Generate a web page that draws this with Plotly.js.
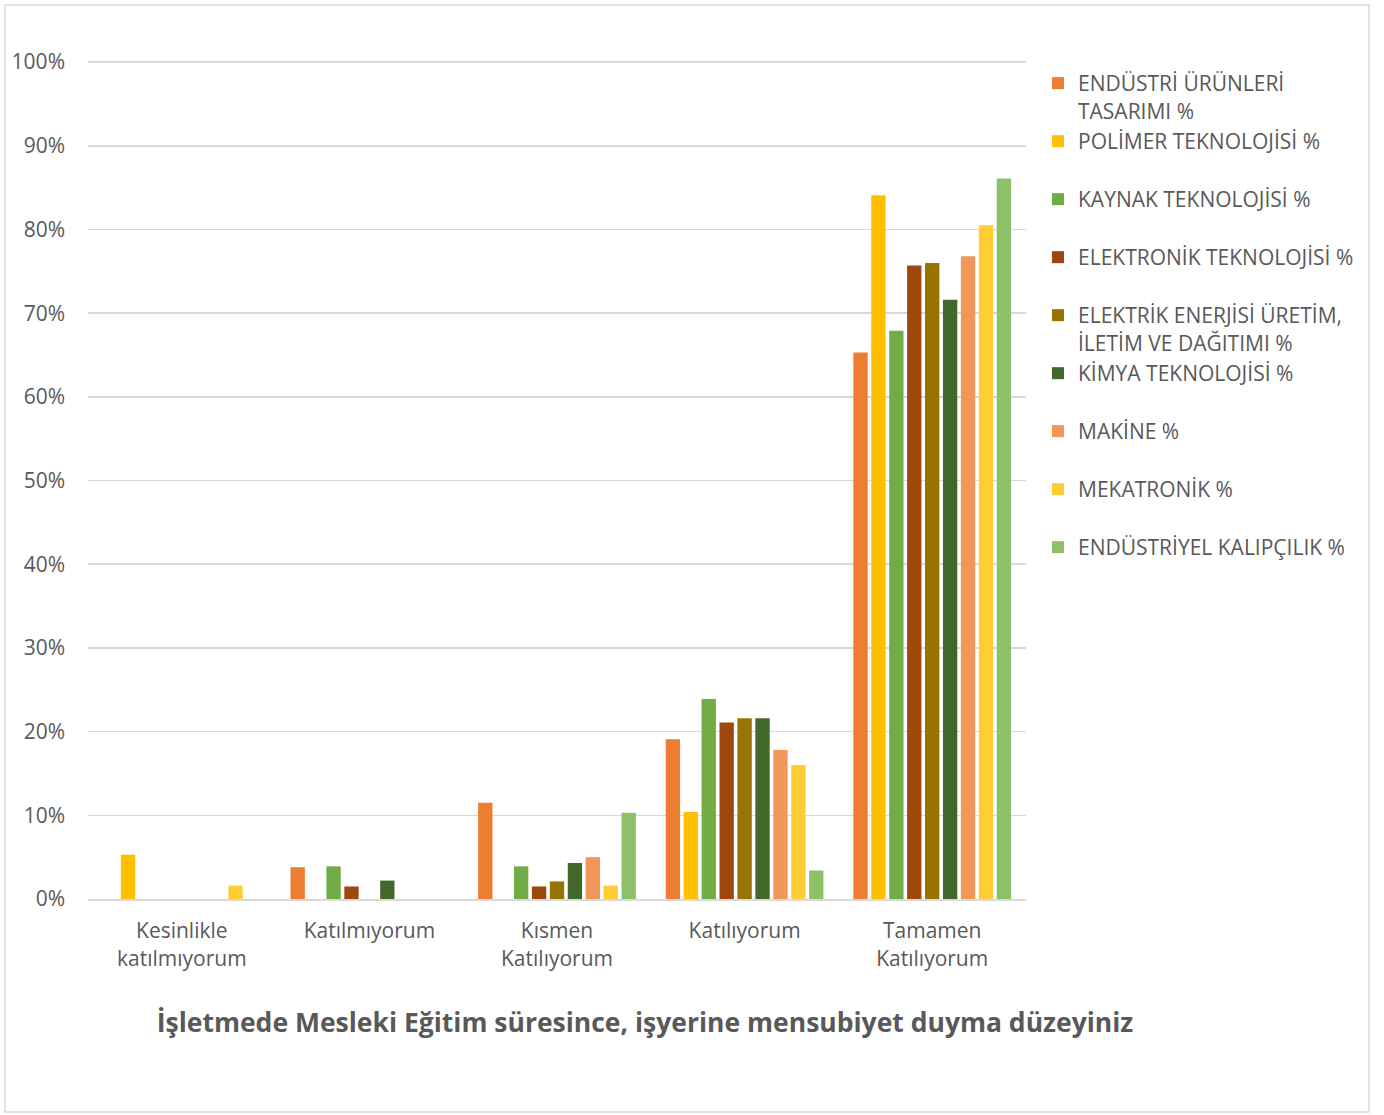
<!DOCTYPE html>
<html>
<head>
<meta charset="utf-8">
<script src="https://cdn.plot.ly/plotly-3.0.1.min.js"></script>
<style>html,body{margin:0;padding:0;background:#fff;}#chart{width:1384px;height:1115px;}</style>
</head>
<body>
<div id="chart"></div>
<script>
const categories = ["Kesinlikle<br>katılmıyorum", "Katılmıyorum", "Kısmen<br>Katılıyorum", "Katılıyorum", "Tamamen<br>Katılıyorum"];
const seriesNames = [
  "ENDÜSTRİ ÜRÜNLERİ<br>TASARIMI %",
  "POLİMER TEKNOLOJİSİ %",
  "KAYNAK TEKNOLOJİSİ %",
  "ELEKTRONİK TEKNOLOJİSİ %",
  "ELEKTRİK ENERJİSİ ÜRETİM,<br>İLETİM VE DAĞITIMI %",
  "KİMYA TEKNOLOJİSİ %",
  "MAKİNE %",
  "MEKATRONİK %",
  "ENDÜSTRİYEL KALIPÇILIK %"
];
const endustriUrunleri = [0, 3.8, 11.5, 19.1, 65.3];
const polimer          = [5.3, 0, 0, 10.4, 84.1];
const kaynak           = [0, 3.9, 3.9, 23.9, 67.9];
const elektronik       = [0, 1.5, 1.5, 21.1, 75.7];
const elektrik         = [0, 0, 2.1, 21.6, 76.0];
const kimya            = [0, 2.2, 4.3, 21.6, 71.6];
const makine           = [0, 0, 5.0, 17.8, 76.8];
const mekatronik       = [1.6, 0, 1.6, 16.0, 80.5];
const kalipcilik       = [0, 0, 10.3, 3.4, 86.1];
const tickValues = [0, 10, 20, 30, 40, 50, 60, 70, 80, 90, 100];
const tickLabels = ["0%", "10%", "20%", "30%", "40%", "50%", "60%", "70%", "80%", "90%", "100%"];

const allSeries = [endustriUrunleri, polimer, kaynak, elektronik, elektrik, kimya, makine, mekatronik, kalipcilik];
const colors = ["#ED7D31", "#FFC000", "#70AD47", "#9E480E", "#997300", "#43682B", "#F1975A", "#FFCD33", "#8CC168"];

const FONT = "'Open Sans', sans-serif";
const W = 1384, H = 1115;
const L = 88, R = 1026, T = 60, B = 899;
const pw = R - L, ph = B - T;
const px = v => (v - L) / pw;
const py = v => (B - v) / ph;

const legendIds = ["legend", "legend2", "legend3", "legend4", "legend5", "legend6", "legend7", "legend8", "legend9"];

const traces = allSeries.map((vals, i) => ({
  type: "bar",
  name: seriesNames[i],
  x: categories,
  y: vals,
  marker: {color: colors[i]},
  legend: legendIds[i],
  hoverinfo: "skip"
}));

const layout = {
  width: W, height: H,
  margin: {l: L, r: W - R, t: T, b: H - B},
  paper_bgcolor: "#ffffff",
  plot_bgcolor: "#ffffff",
  font: {family: FONT, color: "#595959"},
  barmode: "group",
  bargap: 0.14,
  bargroupgap: 0.2,
  showlegend: true,
  title: {
    text: "<b>İşletmede Mesleki Eğitim süresince, işyerine mensubiyet duyma düzeyiniz</b>",
    font: {family: FONT, size: 26.5, color: "#595959"},
    x: 645 / W, xanchor: "center",
    y: 1 - 1023 / H, yanchor: "middle"
  },
  xaxis: {
    type: "category",
    showgrid: false,
    showline: true, linecolor: "#d9d9d9", linewidth: 2,
    ticks: "",
    tickfont: {size: 21, color: "#595959", family: FONT},
    ticklabelstandoff: 12
  },
  yaxis: {
    range: [0, 100.25],
    tickmode: "array",
    tickvals: tickValues,
    ticktext: tickLabels,
    showgrid: true, gridcolor: "#d9d9d9", gridwidth: 1.5,
    zeroline: false,
    showline: false,
    ticks: "",
    tickfont: {size: 21, color: "#595959", family: FONT},
    ticklabelstandoff: 22
  },
  shapes: [{
    type: "rect", xref: "paper", yref: "paper",
    x0: px(5), x1: px(1369), y0: py(1112), y1: py(5),
    line: {color: "#d9d9d9", width: 1.5}, fillcolor: "rgba(0,0,0,0)", layer: "below"
  }]
};

legendIds.forEach((id, i) => {
  layout[id] = {
    x: px(1038), xanchor: "left",
    y: py(63 + 58 * i), yanchor: "top",
    valign: "top",
    bgcolor: "rgba(0,0,0,0)",
    font: {size: 21, color: "#595959", family: FONT},
    itemclick: false, itemdoubleclick: false
  };
});

Plotly.newPlot("chart", traces, layout, {displayModeBar: false, staticPlot: true});
</script>
</body>
</html>
